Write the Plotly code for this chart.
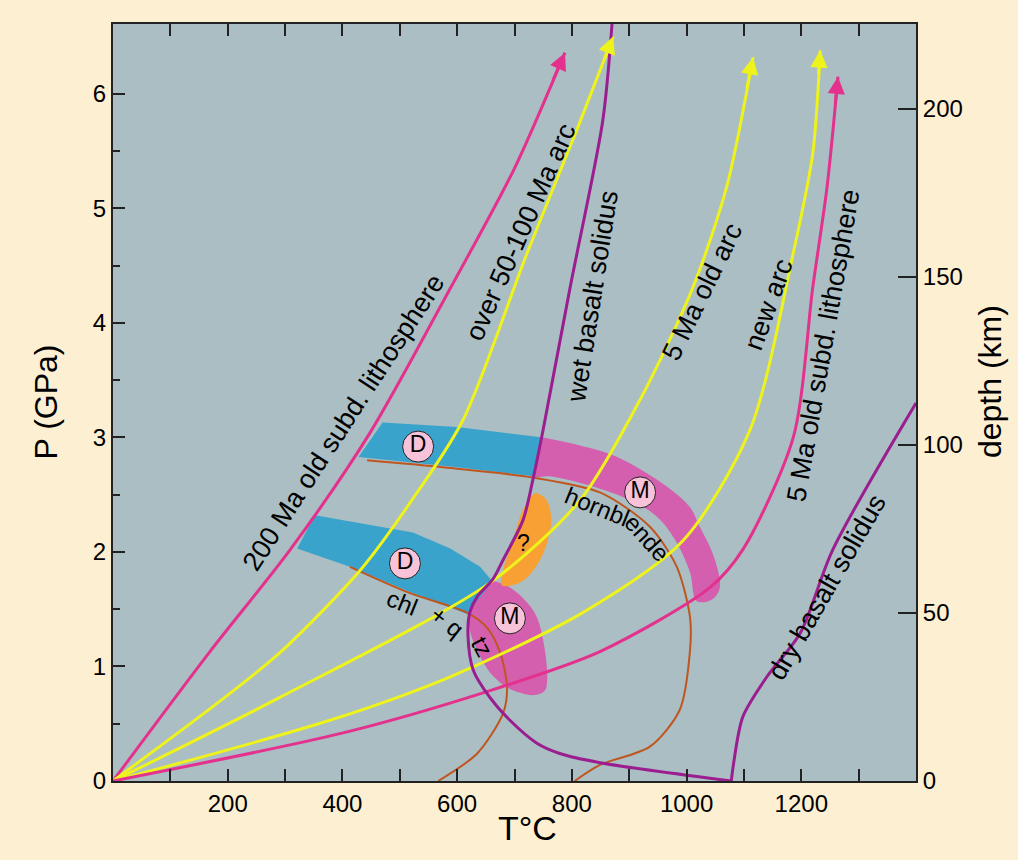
import plotly.graph_objects as go

# ---------------- axis definitions ----------------
T_MAX = 1400
P_MAX = 6.61
KM_PER_GPA = 34.08

x_major_vals = [200, 400, 600, 800, 1000, 1200]
x_minor_vals = [100, 300, 500, 700, 900, 1100, 1300]
p_major_vals = [0, 1, 2, 3, 4, 5, 6]
p_minor_vals = [0.5, 1.5, 2.5, 3.5, 4.5, 5.5]
depth_vals = [0, 50, 100, 150, 200]

# ---------------- P-T paths (T in degC, P in GPa) ----------------
old200_T = [0, 169, 309, 448, 590, 700, 788]
old200_P = [0, 1.13, 2.02, 3.04, 4.32, 5.35, 6.36]

arc50_T = [0, 187, 291, 431, 518, 610, 722, 809, 872]
arc50_P = [0, 0.70, 1.12, 1.84, 2.43, 3.15, 4.61, 5.69, 6.50]

arc5_T = [0, 291, 657, 814, 919, 1011, 1070, 1116]
arc5_P = [0, 0.73, 1.73, 2.45, 3.33, 4.31, 5.19, 6.32]

newarc_T = [0, 378, 588, 819, 994, 1111, 1186, 1220, 1233]
newarc_P = [0, 0.53, 0.91, 1.47, 2.10, 3.07, 4.61, 5.48, 6.38]

old5_T = [0, 401, 645, 849, 1041, 1098, 1186, 1220, 1245, 1264]
old5_P = [0, 0.42, 0.77, 1.13, 1.69, 2.02, 3.00, 4.31, 5.19, 6.15]

# solidi
wet_T = [870, 854, 797, 750, 732, 715, 680, 662, 635, 622, 619, 628, 657, 692, 739, 779, 849, 1078]
wet_P = [6.61, 5.77, 4.31, 3.07, 2.63, 2.28, 1.93, 1.76, 1.61, 1.47, 1.26, 0.97, 0.73, 0.53, 0.33, 0.24, 0.16, 0.0]

dry_T = [1078, 1081, 1098, 1140, 1198, 1255, 1400]
dry_P = [0.0, 0.12, 0.56, 0.91, 1.29, 2.02, 3.30]

# reaction lines
hbl_T = [443, 575, 732, 849, 936, 983, 1006, 1006, 988, 936, 849, 805]
hbl_P = [2.80, 2.74, 2.65, 2.52, 2.22, 1.87, 1.43, 1.14, 0.62, 0.30, 0.14, 0.0]

chl_T = [413, 518, 617, 652, 675, 687, 680, 635, 567]
chl_P = [1.87, 1.64, 1.47, 1.34, 1.12, 0.82, 0.59, 0.24, 0.0]

# ---------------- fields ----------------
blue_up_T = [428, 470, 600, 750, 740, 733, 600, 428]
blue_up_P = [2.83, 3.13, 3.09, 3.00, 2.80, 2.66, 2.74, 2.83]

pink_up_T = [750, 814, 879, 966, 1006, 1023, 1041, 1053, 1058, 1046, 1018, 1006, 983, 948, 889, 762, 733, 740]
pink_up_P = [3.00, 2.93, 2.83, 2.57, 2.39, 2.22, 2.04, 1.87, 1.69, 1.59, 1.57, 1.82, 2.08, 2.31, 2.48, 2.66, 2.66, 2.80]

blue_lo_T = [352, 523, 588, 640, 662, 643, 622, 523, 413, 321]
blue_lo_P = [2.32, 2.17, 2.03, 1.87, 1.74, 1.62, 1.45, 1.64, 1.87, 2.03]

pink_lo_T = [662, 692, 718, 739, 753, 757, 753, 736, 710, 683, 657, 636, 622, 622, 643]
pink_lo_P = [1.75, 1.69, 1.58, 1.43, 1.14, 0.88, 0.79, 0.75, 0.77, 0.83, 0.95, 1.13, 1.32, 1.48, 1.62]

orange_T = [738, 755, 764, 758, 741, 712, 678, 680, 696, 713, 727]
orange_P = [2.52, 2.46, 2.30, 2.10, 1.90, 1.74, 1.71, 1.84, 2.08, 2.35, 2.48]

# circle markers
circ_text = ["D", "M", "D", "M"]
circ_T = [532, 919, 509, 692]
circ_P = [2.92, 2.52, 1.90, 1.42]

# ---------------- colours ----------------
PINK = "#E3318D"
YELLOW = "#EEF31C"
PURPLE = "#9A1E90"
BROWN = "#C0561F"
BLUE_F = "#3AA3CB"
PINK_F = "#D35FAE"
ORANGE_F = "#F8A033"
CIRC_F = "#F8C2D9"
FONT = "Liberation Sans, Arial, Helvetica, sans-serif"

fig = go.Figure()


def field(T, P, color, shape="linear"):
    fig.add_trace(go.Scatter(x=T, y=P, mode="lines", fill="toself", fillcolor=color,
                             line=dict(width=0, color=color, shape=shape),
                             hoverinfo="skip"))


field(blue_up_T, blue_up_P, BLUE_F)
field(pink_up_T, pink_up_P, PINK_F, "spline")
field(blue_lo_T, blue_lo_P, BLUE_F)
field(pink_lo_T, pink_lo_P, PINK_F, "spline")
field(orange_T, orange_P, ORANGE_F, "spline")


def curve(T, P, color, width):
    fig.add_trace(go.Scatter(x=T, y=P, mode="lines",
                             line=dict(color=color, width=width, shape="spline", smoothing=0.8),
                             hoverinfo="skip"))


curve(hbl_T, hbl_P, BROWN, 2)
curve(chl_T, chl_P, BROWN, 2)
curve(old200_T, old200_P, PINK, 3)
curve(arc50_T, arc50_P, YELLOW, 3)
curve(arc5_T, arc5_P, YELLOW, 3)
curve(newarc_T, newarc_P, YELLOW, 3)
curve(old5_T, old5_P, PINK, 3)
curve(wet_T, wet_P, PURPLE, 3)
curve(dry_T, dry_P, PURPLE, 3)

# D / M circles
fig.add_trace(go.Scatter(x=circ_T, y=circ_P, mode="markers+text", text=circ_text,
                         textposition="middle center",
                         textfont=dict(family=FONT, size=23, color="black"),
                         marker=dict(size=31, color=CIRC_F, line=dict(color="#222", width=1)),
                         hoverinfo="skip"))

# invisible trace to activate depth axis
fig.add_trace(go.Scatter(x=[0], y=[0], yaxis="y2", mode="lines", hoverinfo="skip",
                         line=dict(width=0)))

annotations = []

# arrowheads at the ends of the geotherms
for T, P, col in [(old200_T, old200_P, PINK), (arc50_T, arc50_P, YELLOW),
                  (arc5_T, arc5_P, YELLOW), (newarc_T, newarc_P, YELLOW),
                  (old5_T, old5_P, PINK)]:
    tx, ty = T[-1], P[-1]
    bx = tx + 0.25 * (T[-2] - tx)
    by = ty + 0.25 * (P[-2] - ty)
    annotations.append(dict(x=tx, y=ty, ax=bx, ay=by, xref="x", yref="y", axref="x", ayref="y",
                            text="", showarrow=True, arrowhead=2, arrowsize=1.15,
                            arrowwidth=3, arrowcolor=col, standoff=0))

labels = [
    ("200 Ma old subd. lithosphere", 401, 3.13, -57, 27),
    ("over 50-100 Ma arc", 711, 4.79, -66, 27),
    ("wet basalt solidus", 835, 4.23, -81, 27),
    ("5 Ma old arc", 1027, 4.27, -64, 27),
    ("new arc", 1142, 4.16, -70, 27),
    ("5 Ma old subd. lithosphere", 1238, 3.80, -80, 27),
    ("dry basalt solidus", 1245, 1.69, -60, 27),
    ("hornbl", 844, 2.40, 22, 24),
    ("ende", 931, 2.13, 48, 24),
    ("chl", 504, 1.56, 22, 24),
    ("+ q", 582, 1.39, 38, 24),
    ("tz", 645, 1.17, 62, 24),
    ("?", 715, 2.08, 0, 23),
]
for txt, x, y, ang, sz in labels:
    annotations.append(dict(x=x, y=y, xref="x", yref="y", text=txt, showarrow=False,
                            textangle=ang, xanchor="center", yanchor="middle",
                            font=dict(family=FONT, size=sz, color="black")))

# axis titles
annotations.append(dict(x=0, y=0.5, xref="paper", yref="paper", xshift=-68, text="P (GPa)",
                        xanchor="center", yanchor="middle",
                        showarrow=False, textangle=-90, font=dict(family=FONT, size=32, color="black")))
annotations.append(dict(x=1, y=0.527, xref="paper", yref="paper", xshift=74, text="depth (km)",
                        xanchor="center", yanchor="middle",
                        showarrow=False, textangle=-90, font=dict(family=FONT, size=32, color="black")))
annotations.append(dict(x=0.5, y=0, xref="paper", yref="paper", xshift=13, yshift=-47, text="T°C",
                        xanchor="center", yanchor="middle",
                        showarrow=False, font=dict(family=FONT, size=34, color="black")))

axis_common = dict(showgrid=False, zeroline=False, showline=True, linecolor="#222", linewidth=2,
                   ticks="inside", tickcolor="#222", tickwidth=2,
                   tickfont=dict(family=FONT, size=24, color="black"), fixedrange=True)

fig.update_layout(
    width=1023, height=860,
    margin=dict(l=113, r=107, t=24, b=79),
    paper_bgcolor="#FDEFD1", plot_bgcolor="#ABBEC3",
    showlegend=False,
    annotations=annotations,
    xaxis=dict(range=[0, T_MAX], tickmode="array", tickvals=x_major_vals, ticklen=12,
               mirror="allticks",
               minor=dict(tickmode="array", tickvals=x_minor_vals, ticklen=8, ticks="inside",
                          tickcolor="#222", tickwidth=2),
               **axis_common),
    yaxis=dict(range=[0, P_MAX], tickmode="array", tickvals=p_major_vals, ticklen=12,
               minor=dict(tickmode="array", tickvals=p_minor_vals, ticklen=7, ticks="inside",
                          tickcolor="#222", tickwidth=2),
               **axis_common),
    yaxis2=dict(range=[0, P_MAX * KM_PER_GPA], overlaying="y", side="right", tickmode="array",
                tickvals=depth_vals, ticklen=18, **axis_common),
    shapes=[dict(type="rect", xref="paper", yref="paper", x0=1.127, x1=1.3, y0=-0.3, y1=1.3,
                 fillcolor="white", line=dict(width=0), layer="above")],
)

fig.write_html("out.html", config={"displayModeBar": False},
               post_script="document.body.style.margin='0px';document.body.style.overflow='hidden';")
